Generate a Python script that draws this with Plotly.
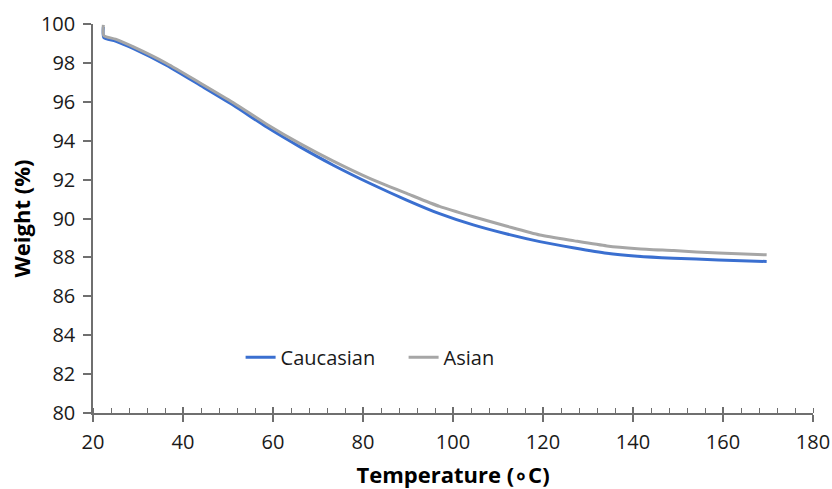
import plotly.graph_objects as go

temp_c = [22.3, 22.4, 25, 29, 36.4, 43.8, 51.2, 58.6, 66, 73.4, 81.6, 89.7, 97, 104.5, 112, 119.3, 127, 134.2, 141, 149, 159, 169.7]
weight_cauc = [99.85, 99.3, 99.12, 98.73, 97.87, 96.85, 95.82, 94.7, 93.68, 92.74, 91.8, 90.95, 90.25, 89.67, 89.2, 88.81, 88.48, 88.21, 88.06, 87.96, 87.87, 87.79]
weight_asian = [99.95, 99.4, 99.22, 98.82, 97.97, 96.97, 95.95, 94.85, 93.85, 92.95, 92.05, 91.29, 90.62, 90.09, 89.6, 89.15, 88.85, 88.59, 88.45, 88.35, 88.22, 88.13]

x_ticks = [20, 40, 60, 80, 100, 120, 140, 160, 180]
y_ticks = [80, 82, 84, 86, 88, 90, 92, 94, 96, 98, 100]

FONT = "Open Sans"
AXC = "#6f6f6f"

fig = go.Figure()
fig.add_trace(go.Scatter(x=temp_c, y=weight_cauc, mode="lines", name="Caucasian",
                         line=dict(color="#3a6fd0", width=3, shape="spline", smoothing=0.6)))
fig.add_trace(go.Scatter(x=temp_c, y=weight_asian, mode="lines", name="Asian",
                         line=dict(color="#a6a6a6", width=3, shape="spline", smoothing=0.6)))
# invisible trace to host the upper half of crossing major ticks
fig.add_trace(go.Scatter(x=[x_ticks[0]], y=[y_ticks[0]], xaxis="x2", mode="markers",
                         marker=dict(opacity=0), showlegend=False, hoverinfo="skip"))

fig.update_layout(
    width=832, height=489,
    margin=dict(l=93, r=19, t=24, b=76, autoexpand=False),
    paper_bgcolor="white", plot_bgcolor="white",
    font=dict(family=FONT, size=20, color="#1a1a1a"),
    showlegend=True,
    legend=dict(orientation="h", x=0.205, y=0.143, xanchor="left", yanchor="middle",
                bgcolor="rgba(0,0,0,0)", font=dict(size=20, color="#1a1a1a"),
                entrywidth=118, entrywidthmode="pixels", itemwidth=30),
    xaxis=dict(range=[20, 180], tickvals=x_ticks, ticktext=[str(v) for v in x_ticks],
               automargin=False,
               showgrid=False, zeroline=False, showline=True, linecolor=AXC, linewidth=1.5,
               ticks="outside", ticklen=7, tickcolor=AXC, tickwidth=1.5,
               minor=dict(dtick=4, ticks="inside", ticklen=5, tickcolor=AXC, tickwidth=1.2, showgrid=False),
               title=dict(text="<b>Temperature (∘C)</b>", font=dict(size=22, color="#000"), standoff=19),
               ticklabelstandoff=3,
               tickfont=dict(size=20)),
    xaxis2=dict(range=[20, 180], overlaying="x", anchor="y", side="bottom", automargin=False,
                tickvals=x_ticks, showticklabels=False, showgrid=False, zeroline=False,
                showline=False, ticks="inside", ticklen=6, tickcolor=AXC, tickwidth=1.5),
    yaxis=dict(range=[80, 100], tickvals=y_ticks, ticktext=[str(v) for v in y_ticks],
               automargin=False,
               showgrid=False, zeroline=False, showline=True, linecolor=AXC, linewidth=1.5,
               ticks="outside", ticklen=8, tickcolor=AXC, tickwidth=1.5,
               ticklabelstandoff=4,
               title=dict(text="<b>Weight (%)</b>", font=dict(size=22, color="#000"), standoff=4),
               tickfont=dict(size=20)),
)

fig.write_html("out.html", config={"displayModeBar": False},
               post_script="document.body.style.margin='0';document.body.style.overflow='hidden';")
